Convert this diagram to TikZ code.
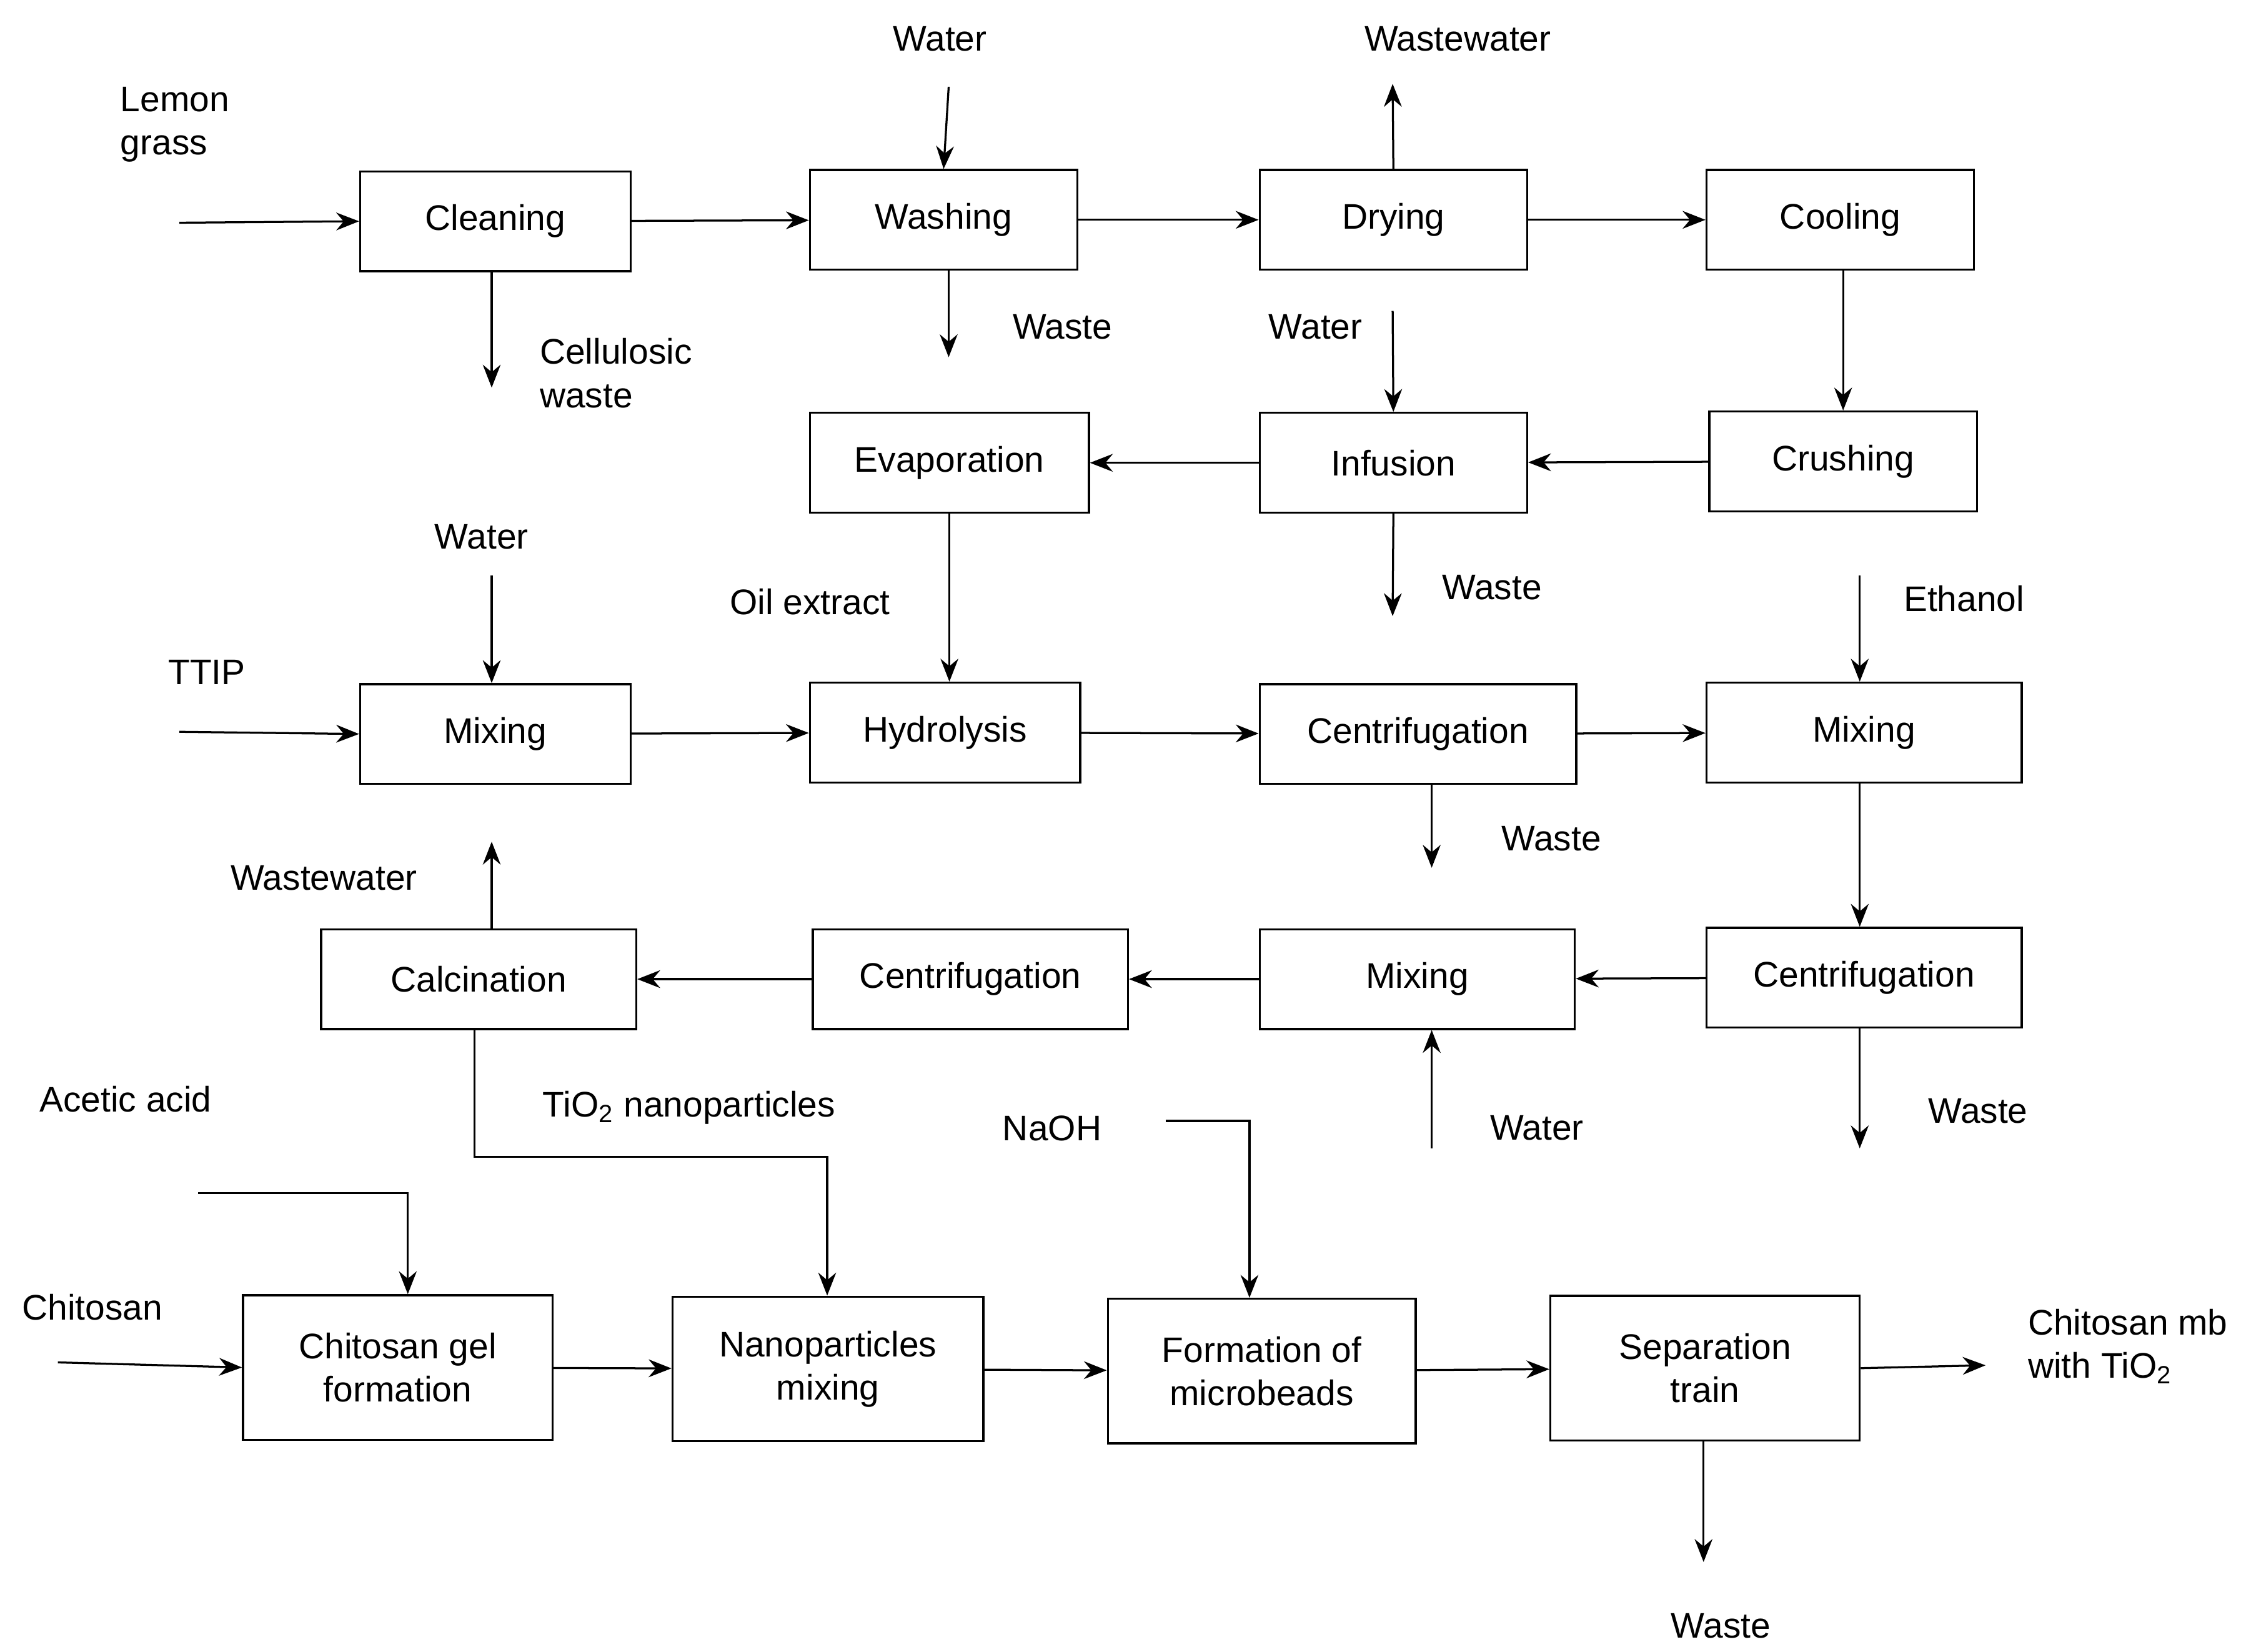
\documentclass[tikz,border=0pt]{standalone}
\usepackage{fontspec}
\setmainfont{Liberation Sans}
\usetikzlibrary{arrows.meta}
\begin{document}
\begin{tikzpicture}[x=0.02cm,y=-0.02cm,
  every node/.style={font=\fontsize{14}{17}\selectfont},
  box/.style={draw,line width=0.8pt,minimum height=1.38cm,inner sep=0pt,align=center},
  bbox/.style={box,minimum height=2cm},
  lbl/.style={anchor=west,inner sep=0pt,align=left},
  clbl/.style={inner sep=0pt,align=center},
  ar/.style={line width=0.8pt,-{Stealth[length=9pt,width=7pt]}},
  ln/.style={line width=0.8pt}]
\useasboundingbox (0,0) rectangle (1560,1142);
% boxes
\node[box,minimum width=3.74cm] (clean) at (342.5,153) {Cleaning};
\node[box,minimum width=3.7cm] (wash) at (652.5,152) {Washing};
\node[box,minimum width=3.7cm] (dry) at (963.5,152) {Drying};
\node[box,minimum width=3.7cm] (cool) at (1272.5,152) {Cooling};
\node[box,minimum width=3.86cm] (evap) at (656.5,320) {Evaporation};
\node[box,minimum width=3.7cm] (inf) at (963.5,320) {Infusion};
\node[box,minimum width=3.7cm] (crush) at (1274.5,319) {Crushing};
\node[box,minimum width=3.74cm] (mix1) at (342.5,507.5) {Mixing};
\node[box,minimum width=3.74cm] (hyd) at (653.5,506.5) {Hydrolysis};
\node[box,minimum width=4.38cm] (cen1) at (980.5,507.5) {Centrifugation};
\node[box,minimum width=4.36cm] (mix2) at (1289,506.5) {Mixing};
\node[box,minimum width=4.36cm] (calc) at (331,677) {Calcination};
\node[box,minimum width=4.36cm] (cen2) at (671,677) {Centrifugation};
\node[box,minimum width=4.36cm] (mix3) at (980,677) {Mixing};
\node[box,minimum width=4.36cm] (cen3) at (1289,676) {Centrifugation};
\node[bbox,minimum width=4.28cm] (gel) at (275,945.5) {Chitosan gel\\formation};
\node[bbox,minimum width=4.3cm] (nano) at (572.5,946.5) {Nanoparticles\\mixing};
\node[bbox,minimum width=4.26cm] (form) at (872.5,948) {Formation of\\microbeads};
\node[bbox,minimum width=4.28cm] (sep) at (1179,946) {Separation\\train};
% coordinates
\coordinate (sLemon) at (124,154);
\coordinate (wWater) at (656,60);
\coordinate (dWW) at (963,58);
\coordinate (cWaste) at (340,268);
\coordinate (waWaste) at (656,247);
\coordinate (iWater) at (963,215);
\coordinate (iWaste) at (963,426);
\coordinate (mWater) at (340,398);
\coordinate (sTTIP) at (124,506);
\coordinate (eth) at (1286,398);
\coordinate (x990) at (990,0);
\coordinate (c1Waste) at (990,600);
\coordinate (x1286) at (1286,0);
\coordinate (c3Waste) at (1286,794);
\coordinate (m3Water) at (990,794);
\coordinate (calWW) at (340,582);
\coordinate (x340) at (340,0);
\coordinate (x328) at (328,0);
\coordinate (t1) at (328,800);
\coordinate (t2) at (572,800);
\coordinate (ac0) at (137,825);
\coordinate (ac1) at (282,825);
\coordinate (chi) at (40,942);
\coordinate (na0) at (806,775);
\coordinate (na1) at (864,775);
\coordinate (out) at (1373,944);
\coordinate (sWaste) at (1178,1080);
% arrows row 1
\draw[ar] (sLemon) -- (clean.west);
\draw[ar] (clean) -- (wash);
\draw[ar] (wash) -- (dry);
\draw[ar] (dry) -- (cool);
\draw[ar] (wWater) -- (wash.north);
\draw[ar] (dry.north) -- (dWW);
\draw[ar] (clean.south -| x340) -- (cWaste);
\draw[ar] (wash.south -| waWaste) -- (waWaste);
% row 2
\draw[ar] (cool.south -| crush.north) -- (crush.north);
\draw[ar] (crush) -- (inf);
\draw[ar] (inf) -- (evap);
\draw[ar] (iWater) -- (inf.north);
\draw[ar] (inf.south) -- (iWaste);
\draw[ar] (evap.south) -- (hyd.north -| evap.south);
% row 3
\draw[ar] (mWater) -- (mix1.north -| mWater);
\draw[ar] (sTTIP) -- (mix1.west);
\draw[ar] (mix1) -- (hyd);
\draw[ar] (hyd) -- (cen1);
\draw[ar] (cen1) -- (mix2);
\draw[ar] (eth) -- (mix2.north -| eth);
\draw[ar] (cen1.south -| x990) -- (c1Waste);
\draw[ar] (mix2.south -| x1286) -- (cen3.north -| x1286);
% row 4
\draw[ar] (cen3) -- (mix3);
\draw[ar] (mix3) -- (cen2);
\draw[ar] (cen2) -- (calc);
\draw[ar] (cen3.south -| x1286) -- (c3Waste);
\draw[ar] (m3Water) -- (mix3.south -| m3Water);
\draw[ar] (calc.north -| x340) -- (calWW);
\draw[ar] (calc.south -| x328) -- (t1) -- (t2) -- (nano.north -| t2);
% row 5
\draw[ar] (ac0) -- (ac1) -- (gel.north -| ac1);
\draw[ar] (chi) -- (gel.west);
\draw[ar] (gel) -- (nano);
\draw[ar] (nano) -- (form);
\draw[ar] (form) -- (sep);
\draw[ar] (sep.east) -- (out);
\draw[ar] (na0) -- (na1) -- (form.north -| na1);
\draw[ar] (sep.south -| sWaste) -- (sWaste);
% labels
\node[lbl] (l1) at (83,86) {Lemon\\grass};
\node[clbl] (l2) at (650,27) {Water};
\node[clbl] (l3) at (1008,27) {Wastewater};
\node[lbl] (l4) at (373,258) {Cellulosic\\waste};
\node[lbl] (l5) at (700,226) {Waste};
\node[lbl] (l6) at (877,226) {Water};
\node[lbl] (l7) at (997,406) {Waste};
\node[clbl] (l8) at (333,371) {Water};
\node[clbl] (l9) at (560,416) {Oil extract};
\node[clbl] (l10) at (143,465) {TTIP};
\node[lbl] (l11) at (1316,414) {Ethanol};
\node[lbl] (l12) at (1038,580) {Waste};
\node[clbl] (l13) at (224,607) {Wastewater};
\node[lbl] (l14) at (1333,768) {Waste};
\node[lbl] (l15) at (1030,780) {Water};
\node[lbl] (l16) at (27,760) {Acetic acid};
\node[lbl] (l17) at (375,766) {TiO\textsubscript{2} nanoparticles};
\node[lbl] (l18) at (693,780) {NaOH};
\node[lbl] (l19) at (15,904) {Chitosan};
\node[lbl] (l20) at (1402,931) {Chitosan mb\\with TiO\textsubscript{2}};
\node[clbl] (l21) at (1190,1124) {Waste};
\end{tikzpicture}
\end{document}
